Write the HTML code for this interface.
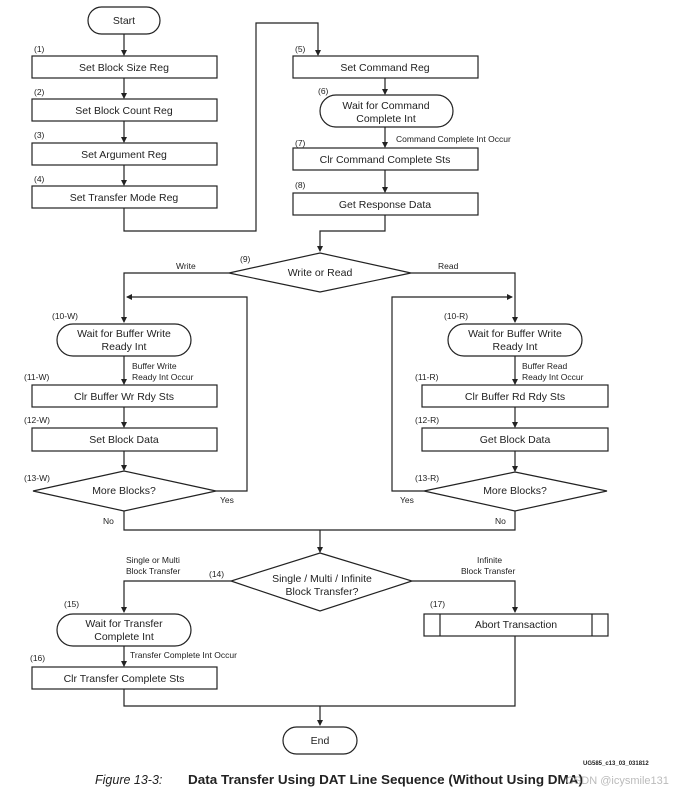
<!DOCTYPE html>
<html><head><style>
html,body{margin:0;padding:0;background:#fff;}
svg{display:block;}
text{font-family:"Liberation Sans",Arial,sans-serif;fill:#222;}
.b{font-size:10.5px;text-anchor:middle;}
.s{font-size:8.5px;}
</style></head><body>
<svg width="684" height="792" viewBox="0 0 684 792" xmlns="http://www.w3.org/2000/svg">
<defs><marker id="a" markerWidth="6" markerHeight="6" refX="5" refY="3" orient="auto" markerUnits="userSpaceOnUse"><path d="M0,0 L6,3 L0,6 z" fill="#222"/></marker></defs>
<g fill="none" stroke="#222" stroke-width="1.2">
<rect x="88" y="7" width="72" height="27" rx="13.5" fill="#fff"/>
<rect x="32" y="56" width="185" height="22"/>
<rect x="32" y="99" width="185" height="22"/>
<rect x="32" y="143" width="185" height="22"/>
<rect x="32" y="186" width="185" height="22"/>
<line x1="124" y1="34" x2="124" y2="55" marker-end="url(#a)"/>
<line x1="124" y1="78" x2="124" y2="98" marker-end="url(#a)"/>
<line x1="124" y1="121" x2="124" y2="142" marker-end="url(#a)"/>
<line x1="124" y1="165" x2="124" y2="185" marker-end="url(#a)"/>
<polyline points="124,208 124,231 256,231 256,23 318,23 318,55" marker-end="url(#a)"/>
<rect x="293" y="56" width="185" height="22"/>
<rect x="320" y="95" width="133" height="32" rx="16"/>
<rect x="293" y="148" width="185" height="22"/>
<rect x="293" y="193" width="185" height="22"/>
<line x1="385" y1="78" x2="385" y2="94" marker-end="url(#a)"/>
<line x1="385" y1="127" x2="385" y2="147" marker-end="url(#a)"/>
<line x1="385" y1="170" x2="385" y2="192" marker-end="url(#a)"/>
<polyline points="385,215 385,231 320,231 320,251" marker-end="url(#a)"/>
<polygon points="320,253 411,273 320,292 229,273"/>
<polyline points="229,273 124,273 124,322" marker-end="url(#a)"/>
<polyline points="411,273 515,273 515,322" marker-end="url(#a)"/>
<rect x="57" y="324" width="134" height="32" rx="16"/>
<rect x="32" y="385" width="185" height="22"/>
<rect x="32" y="428" width="185" height="23"/>
<polygon points="124,471 216,491 124,511 33,491"/>
<line x1="124" y1="356" x2="124" y2="384" marker-end="url(#a)"/>
<line x1="124" y1="407" x2="124" y2="427" marker-end="url(#a)"/>
<line x1="124" y1="451" x2="124" y2="470" marker-end="url(#a)"/>
<polyline points="216,491 247,491 247,297 127,297" marker-end="url(#a)"/>
<rect x="448" y="324" width="134" height="32" rx="16"/>
<rect x="422" y="385" width="186" height="22"/>
<rect x="422" y="428" width="186" height="23"/>
<polygon points="515,472 607,491 515,511 424,491"/>
<line x1="515" y1="356" x2="515" y2="384" marker-end="url(#a)"/>
<line x1="515" y1="407" x2="515" y2="427" marker-end="url(#a)"/>
<line x1="515" y1="451" x2="515" y2="471" marker-end="url(#a)"/>
<polyline points="424,491 392,491 392,297 512,297" marker-end="url(#a)"/>
<polyline points="124,511 124,530 515,530 515,511"/>
<line x1="320" y1="530" x2="320" y2="552" marker-end="url(#a)"/>
<polygon points="320,553 412,581 320,611 231,581"/>
<polyline points="231,581 124,581 124,612" marker-end="url(#a)"/>
<polyline points="412,581 515,581 515,612" marker-end="url(#a)"/>
<rect x="57" y="614" width="134" height="32" rx="16"/>
<rect x="32" y="667" width="185" height="22"/>
<line x1="124" y1="646" x2="124" y2="666" marker-end="url(#a)"/>
<rect x="424" y="614" width="184" height="22"/>
<line x1="440" y1="614" x2="440" y2="636"/>
<line x1="592" y1="614" x2="592" y2="636"/>
<polyline points="124,689 124,706 515,706 515,636"/>
<line x1="320" y1="706" x2="320" y2="725" marker-end="url(#a)"/>
<rect x="283" y="727" width="74" height="27" rx="13.5" fill="#fff"/>
</g>
<text class="b" x="124" y="24">Start</text>
<text class="s" x="34" y="52">(1)</text>
<text class="b" x="124" y="71">Set Block Size Reg</text>
<text class="s" x="34" y="95">(2)</text>
<text class="b" x="124" y="114">Set Block Count Reg</text>
<text class="s" x="34" y="138">(3)</text>
<text class="b" x="124" y="158">Set Argument Reg</text>
<text class="s" x="34" y="182">(4)</text>
<text class="b" x="124" y="201">Set Transfer Mode Reg</text>
<text class="s" x="295" y="52">(5)</text>
<text class="b" x="385" y="71">Set Command Reg</text>
<text class="s" x="318" y="94">(6)</text>
<text class="b" x="386" y="109">Wait for Command</text>
<text class="b" x="386" y="122">Complete Int</text>
<text class="s" x="295" y="146">(7)</text>
<text class="s" x="396" y="142">Command Complete Int Occur</text>
<text class="b" x="385" y="163">Clr Command Complete Sts</text>
<text class="s" x="295" y="188">(8)</text>
<text class="b" x="385" y="208">Get Response Data</text>
<text class="s" x="240" y="262">(9)</text>
<text class="b" x="320" y="276">Write or Read</text>
<text class="s" x="176" y="269">Write</text>
<text class="s" x="438" y="269">Read</text>
<text class="s" x="52" y="319">(10-W)</text>
<text class="b" x="124" y="337">Wait for Buffer Write</text>
<text class="b" x="124" y="350">Ready Int</text>
<text class="s" x="132" y="369">Buffer Write</text>
<text class="s" x="132" y="380">Ready Int Occur</text>
<text class="s" x="24" y="380">(11-W)</text>
<text class="b" x="124" y="400">Clr Buffer Wr Rdy Sts</text>
<text class="s" x="24" y="423">(12-W)</text>
<text class="b" x="124" y="443">Set Block Data</text>
<text class="s" x="24" y="481">(13-W)</text>
<text class="b" x="124" y="494">More Blocks?</text>
<text class="s" x="220" y="503">Yes</text>
<text class="s" x="103" y="524">No</text>
<text class="s" x="444" y="319">(10-R)</text>
<text class="b" x="515" y="337">Wait for Buffer Write</text>
<text class="b" x="515" y="350">Ready Int</text>
<text class="s" x="522" y="369">Buffer Read</text>
<text class="s" x="522" y="380">Ready Int Occur</text>
<text class="s" x="415" y="380">(11-R)</text>
<text class="b" x="515" y="400">Clr Buffer Rd Rdy Sts</text>
<text class="s" x="415" y="423">(12-R)</text>
<text class="b" x="515" y="443">Get Block Data</text>
<text class="s" x="415" y="481">(13-R)</text>
<text class="b" x="515" y="494">More Blocks?</text>
<text class="s" x="400" y="503">Yes</text>
<text class="s" x="495" y="524">No</text>
<text class="s" x="126" y="563">Single or Multi</text>
<text class="s" x="126" y="574">Block Transfer</text>
<text class="s" x="209" y="577">(14)</text>
<text class="b" x="322" y="582">Single / Multi / Infinite</text>
<text class="b" x="322" y="595">Block Transfer?</text>
<text class="s" x="477" y="563">Infinite</text>
<text class="s" x="461" y="574">Block Transfer</text>
<text class="s" x="64" y="607">(15)</text>
<text class="b" x="124" y="627">Wait for Transfer</text>
<text class="b" x="124" y="640">Complete Int</text>
<text class="s" x="430" y="607">(17)</text>
<text class="b" x="516" y="628">Abort Transaction</text>
<text class="s" x="130" y="658">Transfer Complete Int Occur</text>
<text class="s" x="30" y="661">(16)</text>
<text class="b" x="124" y="682">Clr Transfer Complete Sts</text>
<text class="b" x="320" y="744">End</text>
<text x="583" y="765" style="font-size:6px;font-weight:bold">UG585_c13_03_031812</text>
<text x="95" y="784" style="font-size:12.5px;font-style:italic">Figure 13-3:</text>
<text x="188" y="784" textLength="395" lengthAdjust="spacingAndGlyphs" style="font-size:12.5px;font-weight:bold">Data Transfer Using DAT Line Sequence (Without Using DMA)</text>
<text x="566" y="784" style="font-size:11px;fill:#bbb">CSDN @icysmile131</text>
</svg>
</body></html>
